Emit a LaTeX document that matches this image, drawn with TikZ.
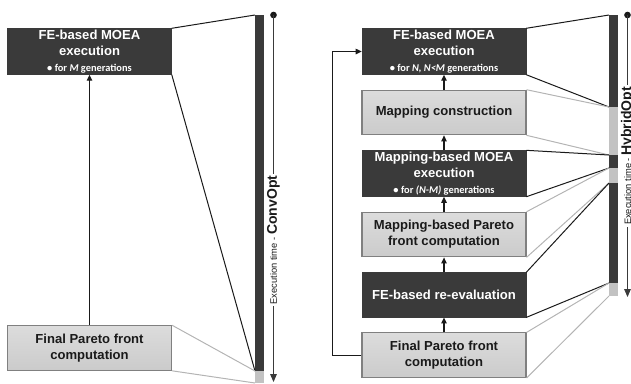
\documentclass[tikz,border=0pt]{standalone}
\usepackage{fontspec}
\setmainfont{Liberation Sans}
\newfontfamily\genfont{Carlito}
\usetikzlibrary{arrows.meta,positioning}
\definecolor{ink}{HTML}{1A1A1A}
\definecolor{darkFill}{HTML}{3A3A3A}
\definecolor{lightTop}{HTML}{DCDCDC}
\definecolor{lightBot}{HTML}{CBCBCB}
\definecolor{lightLine}{HTML}{808080}
\definecolor{segLight}{HTML}{C2C2C2}
\definecolor{linkGrey}{HTML}{B4B4B4}
\tikzset{>={Triangle[length=4.5pt,width=4pt]},
  box/.style={minimum width=123pt,minimum height=33.4pt,inner sep=1pt,align=center,
    font=\bfseries\fontsize{9.8}{12}\selectfont},
  darkbox/.style={box,fill=darkFill,draw=darkFill,text=white},
  lightbox/.style={box,top color=lightTop,bottom color=lightBot,draw=lightLine,line width=0.8pt,text=ink},
  segD/.style={fill=darkFill,minimum width=6.75pt,inner sep=0pt,outer sep=0pt},
  segL/.style={fill=segLight,minimum width=6.75pt,inner sep=0pt,outer sep=0pt},
  blink/.style={ink,line width=0.75pt},
  glink/.style={linkGrey,line width=0.75pt},
  flow/.style={->,ink,line width=1pt},
  timeln/.style={-{Triangle[length=6pt,width=5pt]},darkFill,line width=0.6pt},
  tdot/.style={circle,fill=ink,inner sep=0pt,minimum size=5pt},
  tlab/.style={rotate=90,fill=white,inner sep=1.5pt,text=ink}}
\newcommand{\gens}[1]{{\genfont\bfseries\fontsize{7.8}{9}\selectfont #1}}
\newcommand{\timelab}[1]{{\fontsize{7}{8}\selectfont Execution time - }{\bfseries\fontsize{10.5}{12}\selectfont #1}}
\begin{document}
\begin{tikzpicture}[x=0.75pt,y=-0.75pt,node distance=11.25pt]
\useasboundingbox (0,0) rectangle (631,383);
% ConvOpt
\node[darkbox] (c1) at (89.5,51.5) {FE-based MOEA\\execution\\\gens{• for \textit{M} generations}};
\node[lightbox] (c2) at (89.5,348) {Final Pareto front\\computation};
\draw[flow] (c2.north) -- (c1.south);
\node[segD,minimum height=267pt] (cs1) at (259.5,193) {};
\node[segL,minimum height=9pt,below=0pt of cs1] (cs2) {};
\draw[blink] (c1.north east) -- (cs1.north west);
\draw[blink] (c1.south east) -- (cs1.south west);
\draw[glink] (c2.north east) -- (cs2.north west);
\draw[glink] (c2.south east) -- (cs2.south west);
\node[tdot] (cdot) at (273.5,15) {};
\coordinate (cend) at (273.5,382);
\draw[timeln] (cdot.center) -- node[tlab,pos=0.613] {\timelab{ConvOpt}} (cend);
% HybridOpt
\node[darkbox] (h1) at (444,51.5) {FE-based MOEA\\execution\\\gens{• for \textit{N, N<M} generations}};
\node[lightbox,below=of h1] (h2) {Mapping construction};
\node[darkbox,below=of h2] (h3) {Mapping-based MOEA\\execution\\\gens{• for \textit{(N-M)} generations}};
\node[lightbox,below=of h3] (h4) {Mapping-based Pareto\\front computation};
\node[darkbox,below=of h4] (h5) {FE-based re-evaluation};
\node[lightbox,below=of h5] (h6) {Final Pareto front\\computation};
\foreach \a/\b in {h6/h5,h5/h4,h4/h3,h3/h2,h2/h1}
  \draw[flow] (\a.north) -- (\b.south);
\draw[flow] (h6.west) -- ++(-29,0) |- (h1.west);
\node[segD,minimum height=69pt] (hs1) at (613.5,61) {};
\node[segL,minimum height=36pt,below=0pt of hs1] (hs2) {};
\node[segD,minimum height=9.75pt,below=0pt of hs2] (hs3) {};
\node[segL,minimum height=11.25pt,below=0pt of hs3] (hs4) {};
\node[segD,minimum height=75pt,below=0pt of hs4] (hs5) {};
\node[segL,minimum height=9.75pt,below=0pt of hs5] (hs6) {};
\foreach \b/\s/\st in {h1/hs1/blink,h2/hs2/glink,h3/hs3/blink,h4/hs4/glink,h5/hs5/blink,h6/hs6/glink}{
  \draw[\st] (\b.north east) -- (\s.north west);
  \draw[\st] (\b.south east) -- (\s.south west);
}
\node[tdot] (hdot) at (627.5,15) {};
\coordinate (hend) at (627.5,297);
\draw[timeln] (hdot.center) -- node[tlab,pos=0.5] {\timelab{HybridOpt}} (hend);
\end{tikzpicture}
\end{document}
